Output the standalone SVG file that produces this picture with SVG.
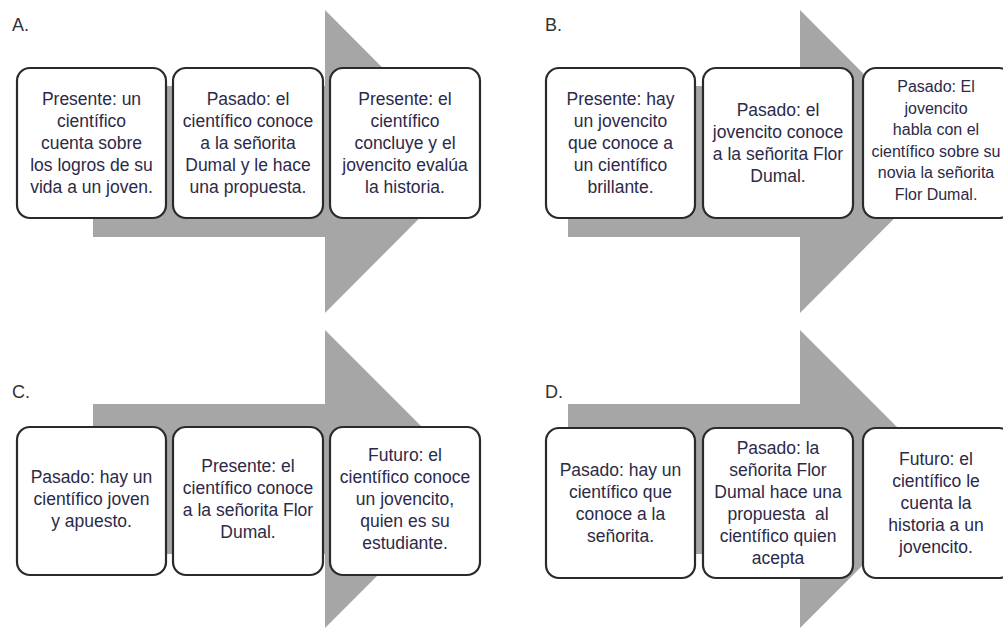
<svg xmlns="http://www.w3.org/2000/svg" width="1003" height="630" viewBox="0 0 1003 630">
<style>
.arrow{fill:#a6a6a6}
.box{fill:#ffffff;stroke:#2a2a2a;stroke-width:2.2}
.t{font-family:"Liberation Sans",Arial,sans-serif;font-size:17.5px;fill:#2c2a48;text-anchor:middle}
.t2{font-size:16px}
.lbl{font-family:"Liberation Sans",Arial,sans-serif;font-size:18px;fill:#333333}
</style>
<rect width="1003" height="630" fill="#ffffff"/>
<g id="arrows">
<polygon class="arrow" points="93,86 325,86 325,10 476,161.5 325,313 325,237 93,237"/>
<polygon class="arrow" points="568,86 800,86 800,10 951,161.5 800,313 800,237 568,237"/>
<polygon class="arrow" points="93,404 325,404 325,330 474,479 325,628 325,554 93,554"/>
<polygon class="arrow" points="568,404 800,404 800,330 949,479 800,628 800,554 568,554"/>
</g>
<g id="labels">
<text class="lbl" x="12" y="31">A.</text>
<text class="lbl" x="545" y="31">B.</text>
<text class="lbl" x="12" y="398">C.</text>
<text class="lbl" x="545" y="398">D.</text>
</g>
<g id="A1">
<rect class="box" x="17" y="68" width="149" height="150" rx="13"/>
<text class="t" x="91.5" y="105"><tspan x="91.5">Presente: un</tspan><tspan x="91.5" dy="22">científico</tspan><tspan x="91.5" dy="22">cuenta sobre</tspan><tspan x="91.5" dy="22">los logros de su</tspan><tspan x="91.5" dy="22">vida a un joven.</tspan></text>
</g>
<g id="A2">
<rect class="box" x="173" y="68" width="150" height="150" rx="13"/>
<text class="t" x="248" y="105"><tspan x="248">Pasado: el</tspan><tspan x="248" dy="22">científico conoce</tspan><tspan x="248" dy="22">a la señorita</tspan><tspan x="248" dy="22">Dumal y le hace</tspan><tspan x="248" dy="22">una propuesta.</tspan></text>
</g>
<g id="A3">
<rect class="box" x="330" y="68" width="150" height="150" rx="13"/>
<text class="t" x="405" y="105"><tspan x="405">Presente: el</tspan><tspan x="405" dy="22">científico</tspan><tspan x="405" dy="22">concluye y el</tspan><tspan x="405" dy="22">jovencito evalúa</tspan><tspan x="405" dy="22">la historia.</tspan></text>
</g>
<g id="B1">
<rect class="box" x="546" y="68" width="149" height="150" rx="13"/>
<text class="t" x="620.5" y="105"><tspan x="620.5">Presente: hay</tspan><tspan x="620.5" dy="22">un jovencito</tspan><tspan x="620.5" dy="22">que conoce a</tspan><tspan x="620.5" dy="22">un científico</tspan><tspan x="620.5" dy="22">brillante.</tspan></text>
</g>
<g id="B2">
<rect class="box" x="703" y="68" width="150" height="150" rx="13"/>
<text class="t" x="778" y="116"><tspan x="778">Pasado: el</tspan><tspan x="778" dy="22">jovencito conoce</tspan><tspan x="778" dy="22">a la señorita Flor</tspan><tspan x="778" dy="22">Dumal.</tspan></text>
</g>
<g id="B3">
<rect class="box" x="863" y="68" width="149" height="150" rx="13"/>
<text class="t t2" x="936" y="92"><tspan x="936">Pasado: El</tspan><tspan x="936" dy="21.5">jovencito</tspan><tspan x="936" dy="21.5">habla con el</tspan><tspan x="936" dy="21.5">científico sobre su</tspan><tspan x="936" dy="21.5">novia la señorita</tspan><tspan x="936" dy="21.5">Flor Dumal.</tspan></text>
</g>
<g id="C1">
<rect class="box" x="17" y="427" width="149" height="148" rx="13"/>
<text class="t" x="91.5" y="483"><tspan x="91.5">Pasado: hay un</tspan><tspan x="91.5" dy="22">científico joven</tspan><tspan x="91.5" dy="22">y apuesto.</tspan></text>
</g>
<g id="C2">
<rect class="box" x="173" y="427" width="150" height="148" rx="13"/>
<text class="t" x="248" y="472"><tspan x="248">Presente: el</tspan><tspan x="248" dy="22">científico conoce</tspan><tspan x="248" dy="22">a la señorita Flor</tspan><tspan x="248" dy="22">Dumal.</tspan></text>
</g>
<g id="C3">
<rect class="box" x="330" y="427" width="150" height="148" rx="13"/>
<text class="t" x="405" y="461"><tspan x="405">Futuro: el</tspan><tspan x="405" dy="22">científico conoce</tspan><tspan x="405" dy="22">un jovencito,</tspan><tspan x="405" dy="22">quien es su</tspan><tspan x="405" dy="22">estudiante.</tspan></text>
</g>
<g id="D1">
<rect class="box" x="546" y="428" width="149" height="150" rx="13"/>
<text class="t" x="620.5" y="476"><tspan x="620.5">Pasado: hay un</tspan><tspan x="620.5" dy="22">científico que</tspan><tspan x="620.5" dy="22">conoce a la</tspan><tspan x="620.5" dy="22">señorita.</tspan></text>
</g>
<g id="D2">
<rect class="box" x="703" y="428" width="150" height="150" rx="13"/>
<text class="t" x="778" y="454" xml:space="preserve"><tspan x="778">Pasado: la</tspan><tspan x="778" dy="22">señorita Flor</tspan><tspan x="778" dy="22">Dumal hace una</tspan><tspan x="778" dy="22">propuesta  al</tspan><tspan x="778" dy="22">científico quien</tspan><tspan x="778" dy="22">acepta</tspan></text>
</g>
<g id="D3">
<rect class="box" x="863" y="428" width="149" height="150" rx="13"/>
<text class="t" x="936" y="465"><tspan x="936">Futuro: el</tspan><tspan x="936" dy="22">científico le</tspan><tspan x="936" dy="22">cuenta la</tspan><tspan x="936" dy="22">historia a un</tspan><tspan x="936" dy="22">jovencito.</tspan></text>
</g>
</svg>
